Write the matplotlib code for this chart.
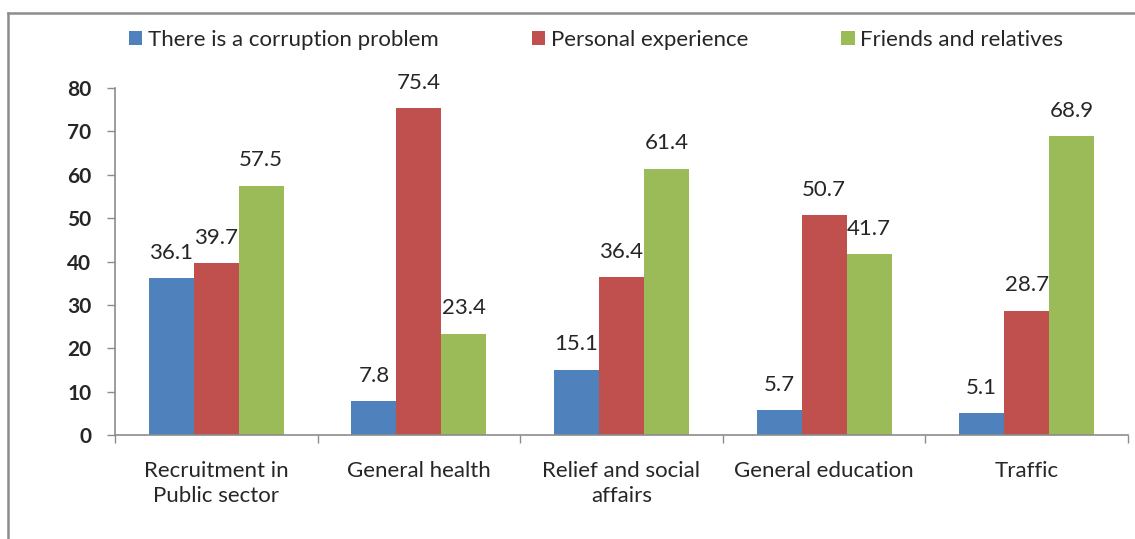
import matplotlib
matplotlib.use("Agg")
import matplotlib.pyplot as plt
from matplotlib.lines import Line2D
import numpy as np

categories = ["Recruitment in\nPublic sector", "General health", "Relief and social\naffairs",
              "General education", "Traffic"]
series_names = ["There is a corruption problem", "Personal experience", "Friends and relatives"]
corruption = [36.1, 7.8, 15.1, 5.7, 5.1]
personal = [39.7, 75.4, 36.4, 50.7, 28.7]
friends = [57.5, 23.4, 61.4, 41.7, 68.9]
yticks = [0, 10, 20, 30, 40, 50, 60, 70, 80]

colors = ["#4F81BD", "#C0504D", "#9BBB59"]
plt.rcParams['font.family'] = ['Lato', 'DejaVu Sans']
txt = "#262626"

W, H = 1135, 539
fig = plt.figure(figsize=(W / 100, H / 100), dpi=100)
ax = fig.add_axes([115 / W, 1 - 435 / H, (1128 - 115) / W, (435 - 88) / H])

# outer frame (only top and left edges are visible)
fx, fy = 8 / W, 1 - 13 / H
fig.add_artist(Line2D([fx, fx], [0, fy], transform=fig.transFigure, color="#8c8c8c",
                      linewidth=1.8, solid_capstyle="projecting"))
fig.add_artist(Line2D([fx, 1.0], [fy, fy], transform=fig.transFigure, color="#8c8c8c",
                      linewidth=1.8, solid_capstyle="projecting"))

x = np.arange(len(categories))
bw = 0.222
data = [corruption, personal, friends]
for i, (vals, c, name) in enumerate(zip(data, colors, series_names)):
    pos = x + (i - 1) * bw
    ax.bar(pos, vals, width=bw, color=c, label=name, zorder=2)
    for p, v in zip(pos, vals):
        ax.annotate(f"{v}", (p, v), xytext=(0, 11), textcoords="offset points",
                    ha="center", va="bottom", fontsize=16, color=txt)

ax.set_xlim(-0.5, 4.5)
ax.set_ylim(0, 80)
ax.set_yticks(yticks)
ax.set_yticklabels([str(t) for t in yticks], fontsize=15, fontweight="bold", color=txt)
ax.tick_params(axis="y", length=6, width=1, color="#8c8c8c", pad=11)
ax.set_xticks(x)
ax.set_xticklabels(categories, fontsize=16, color=txt, linespacing=1.3)
ax.tick_params(axis="x", which="major", length=0, pad=19)
ax.set_xticks(np.arange(-0.5, 4.6, 1), minor=True)
ax.tick_params(axis="x", which="minor", length=6, width=1, color="#8c8c8c")
for s in ["top", "right"]:
    ax.spines[s].set_visible(False)
for s in ["left", "bottom"]:
    ax.spines[s].set_color("#8c8c8c")
    ax.spines[s].set_linewidth(1.2)

fig.legend(loc="center", bbox_to_anchor=(0.525, 1 - 40 / H), ncol=3, frameon=False,
           fontsize=16, handlelength=0.6, handleheight=0.6, handletextpad=0.25,
           columnspacing=4.2, labelcolor=txt)

fig.savefig("out.png", dpi=100)
